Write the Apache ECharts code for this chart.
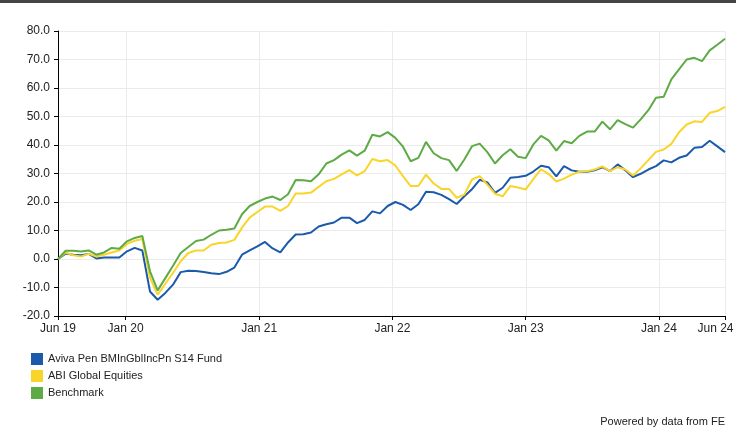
<!DOCTYPE html>
<html><head><meta charset="utf-8">
<script src="https://cdn.jsdelivr.net/npm/echarts@6/dist/echarts.min.js"></script>
<style>html,body{margin:0;padding:0;background:#fff}#c{width:736px;height:432px}</style>
</head><body><div id="c"></div>
<script>
const dates = [
 '2019-06-30','2019-07-21','2019-08-11','2019-09-01','2019-09-22','2019-10-13','2019-11-03','2019-11-24','2019-12-15','2020-01-05',
 '2020-01-26','2020-02-16','2020-03-08','2020-03-29','2020-04-19','2020-05-10','2020-05-31','2020-06-21','2020-07-12','2020-08-02',
 '2020-08-23','2020-09-13','2020-10-04','2020-10-25','2020-11-15','2020-12-06','2020-12-27','2021-01-17','2021-02-07','2021-02-28',
 '2021-03-21','2021-04-11','2021-05-02','2021-05-23','2021-06-13','2021-07-04','2021-07-25','2021-08-15','2021-09-05','2021-09-26',
 '2021-10-17','2021-11-07','2021-11-28','2021-12-19','2022-01-09','2022-01-30','2022-02-20','2022-03-13','2022-04-03','2022-04-24',
 '2022-05-15','2022-06-05','2022-06-26','2022-07-17','2022-08-07','2022-08-28','2022-09-18','2022-10-09','2022-10-30','2022-11-20',
 '2022-12-11','2023-01-01','2023-01-22','2023-02-12','2023-03-05','2023-03-26','2023-04-16','2023-05-07','2023-05-28','2023-06-18',
 '2023-07-09','2023-07-30','2023-08-20','2023-09-10','2023-10-01','2023-10-22','2023-11-12','2023-12-03','2023-12-24','2024-01-14',
 '2024-02-04','2024-02-25','2024-03-17','2024-04-07','2024-04-28','2024-05-19','2024-06-09','2024-06-30'
];
const fundValues = [
 0, 1.9, 1.5, 1.3, 1.8, 0.2, 0.5, 0.5, 0.5, 2.7,
 3.9, 3.0, -11.4, -14.3, -11.9, -9.0, -4.6, -4.1, -4.2, -4.6,
 -5.0, -5.3, -4.5, -3.0, 1.5, 3.0, 4.4, 6.0, 3.7, 2.3,
 5.8, 8.6, 8.7, 9.3, 11.4, 12.2, 12.8, 14.5, 14.5, 12.6,
 13.7, 16.7, 16.0, 18.6, 20.0, 19.0, 17.2, 19.2, 23.6, 23.4,
 22.5, 21.0, 19.3, 22.0, 24.5, 27.8, 26.9, 23.2, 25.0, 28.5,
 28.8, 29.2, 30.7, 32.7, 32.2, 29.0, 32.6, 31.1, 30.6, 30.6,
 31.1, 32.2, 30.8, 33.2, 31.1, 28.7, 29.9, 31.4, 32.6, 34.6,
 33.9, 35.5, 36.3, 39.0, 39.3, 41.5, 39.5, 37.5
];
const sectorValues = [
 0, 2.3, 1.3, 0.9, 1.8, 0.9, 1.5, 2.3, 3.0, 5.3,
 6.4, 7.0, -6.5, -12.5, -8.7, -4.9, -0.8, 2.1, 3.0, 3.0,
 5.0, 5.6, 5.8, 6.7, 11.0, 14.5, 16.5, 18.4, 18.4, 16.9,
 18.6, 23.0, 23.0, 23.3, 25.3, 27.3, 28.1, 29.7, 31.2, 29.3,
 30.8, 35.1, 34.3, 34.7, 32.8, 29.1, 25.6, 25.6, 29.6, 26.5,
 24.6, 24.6, 21.5, 22.6, 27.9, 29.1, 26.1, 22.9, 22.0, 25.6,
 25.1, 24.4, 28.0, 31.5, 29.8, 27.2, 28.2, 29.6, 30.6, 30.8,
 31.4, 32.5, 30.8, 32.2, 31.4, 29.3, 31.8, 34.7, 37.6, 38.4,
 40.4, 44.5, 47.2, 48.3, 48.1, 51.3, 51.9, 53.4
];
const benchmarkValues = [
 0, 2.9, 2.9, 2.6, 3.0, 1.5, 2.3, 3.9, 3.6, 6.2,
 7.4, 8.1, -4.3, -11.0, -6.7, -2.4, 2.1, 4.2, 6.3, 6.8,
 8.5, 10.0, 10.3, 10.7, 15.7, 18.6, 20.0, 21.2, 21.9, 20.7,
 22.7, 27.7, 27.6, 27.3, 29.7, 33.5, 34.7, 36.6, 38.1, 36.3,
 38.0, 43.6, 43.0, 44.5, 42.5, 39.4, 34.3, 35.5, 41.1, 37.1,
 35.4, 34.7, 30.9, 34.9, 39.6, 40.5, 37.5, 33.5, 36.4, 38.5,
 35.9, 35.4, 40.2, 43.2, 41.6, 38.0, 41.4, 40.6, 43.2, 44.7,
 44.7, 48.2, 45.5, 48.7, 47.3, 46.1, 49.0, 52.2, 56.6, 56.9,
 63.0, 66.5, 70.0, 70.6, 69.4, 73.2, 75.2, 77.3
];
const seriesNames = ['Aviva Pen BMInGblIncPn S14 Fund', 'ABI Global Equities', 'Benchmark'];
const seriesColors = ['#1b5aab', '#f9d52a', '#5eaa45'];
const xTickDates = ['2019-06-30','2020-01-01','2021-01-01','2022-01-01','2023-01-01','2024-01-01','2024-06-30'];
const xTickLabels = ['Jun 19','Jan 20','Jan 21','Jan 22','Jan 23','Jan 24','Jun 24'];
const yMin = -20, yMax = 80, yStep = 10;
const footerText = 'Powered by data from FE';

const ts = d => Date.parse(d + 'T00:00:00Z');
const tickTs = xTickDates.map(ts);
const FONT = '"Liberation Sans", Arial, sans-serif';

const chart = echarts.init(document.getElementById('c'), null, {renderer: 'canvas'});
const mk = (vals) => vals.map((v, i) => [ts(dates[i]), v]);
const valueSets = [fundValues, sectorValues, benchmarkValues];

const series = [{
  name: 'vgrid', type: 'custom', z: 1, silent: true, animation: false,
  data: tickTs.slice(1).map(t => [t]),
  encode: {x: 0},
  renderItem: (params, api) => {
    const t = api.value(0);
    const p1 = api.coord([t, yMin]);
    const p2 = api.coord([t, yMax]);
    const x = Math.round(p1[0]) + 0.5;
    return {type: 'line', shape: {x1: x, y1: p1[1], x2: x, y2: p2[1]},
      style: {stroke: '#ebebeb', lineWidth: 1}};
  }
}].concat(valueSets.map((vals, k) => ({
  name: seriesNames[k], type: 'line', data: mk(vals), showSymbol: false, symbol: 'none',
  lineStyle: {color: seriesColors[k], width: 2}, itemStyle: {color: seriesColors[k]},
  z: 3, animation: false
})));

const labelFor = v => {
  let b = 0, bd = Infinity;
  tickTs.forEach((t, i) => { const d = Math.abs(t - v); if (d < bd) { bd = d; b = i; } });
  return b === xTickLabels.length - 1 ? '{last|' + xTickLabels[b] + '}' : xTickLabels[b];
};

chart.setOption({
  animation: false,
  backgroundColor: '#fff',
  grid: {left: 58, right: 11, top: 31, bottom: 116, containLabel: false, outerBoundsMode: 'none'},
  xAxis: {
    type: 'value', min: tickTs[0], max: tickTs[tickTs.length - 1], scale: true,
    axisLine: {show: true, onZero: false, lineStyle: {color: '#000', width: 1}},
    axisTick: {show: true, length: 4, lineStyle: {color: '#000'}, customValues: tickTs},
    axisLabel: {customValues: tickTs, color: '#222', fontSize: 12, fontFamily: FONT, margin: 7,
      showMinLabel: true, showMaxLabel: true, hideOverlap: false, formatter: labelFor,
      rich: {last: {fontSize: 12, fontFamily: FONT, color: '#222', padding: [0, 19, 0, 0]}}},
    splitLine: {show: false}
  },
  yAxis: {
    type: 'value', min: yMin, max: yMax, interval: yStep,
    axisLine: {show: true, onZero: false, lineStyle: {color: '#000', width: 1}},
    axisTick: {show: true, length: 4, lineStyle: {color: '#000'}},
    axisLabel: {color: '#222', fontSize: 12, fontFamily: FONT, margin: 8, formatter: v => v.toFixed(1)},
    splitLine: {show: true, lineStyle: {color: '#ebebeb', width: 1}}
  },
  legend: {
    data: seriesNames, orient: 'vertical', left: 31, top: 353, padding: 0, itemWidth: 12, itemHeight: 12, itemGap: 5,
    icon: 'rect', textStyle: {fontSize: 11, color: '#222', fontFamily: FONT}, selectedMode: false
  },
  graphic: [
    {type: 'rect', left: 0, top: 0, shape: {width: 736, height: 3}, style: {fill: '#444'}},
    {type: 'text', right: 11, top: 416, style: {text: footerText, fill: '#222', font: '11px ' + FONT}}
  ],
  series: series
});
</script></body></html>
